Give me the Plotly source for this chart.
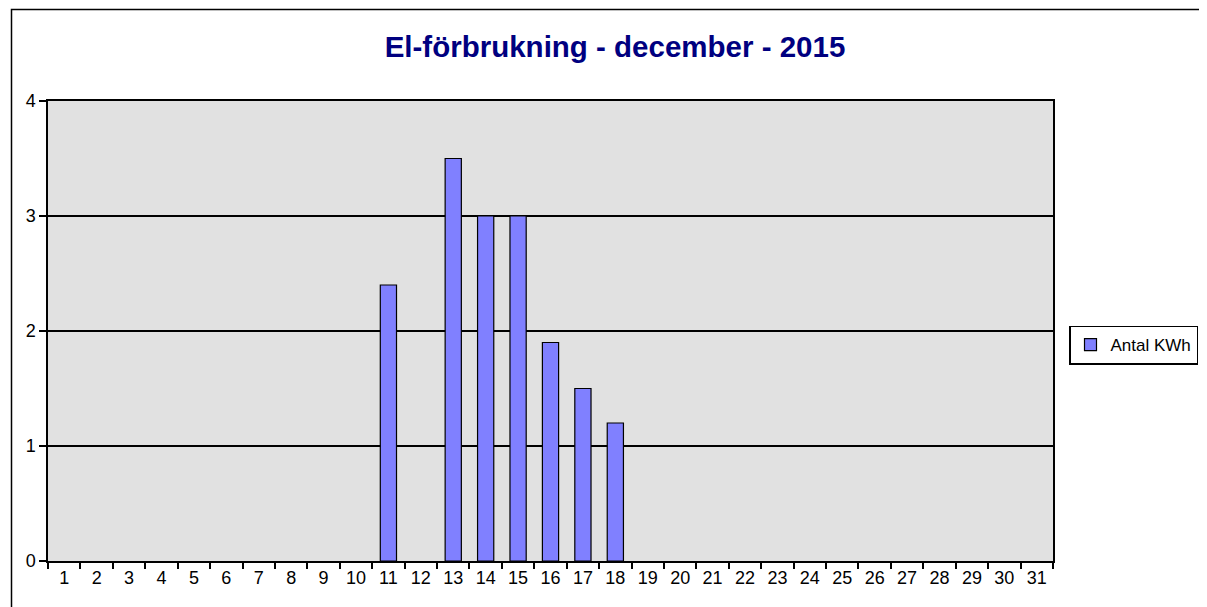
import plotly.graph_objects as go

days = [str(d) for d in range(1, 32)]
kwh = [None] * 10 + [2.4, None, 3.5, 3.0, 3.0, 1.9, 1.5, 1.2] + [None] * 13
title_text = "El-förbrukning - december - 2015"
series_name = "Antal KWh"
y_ticks = [0, 1, 2, 3, 4]

OFF = 8  # page body margin
W, H = 1207 - OFF, 607 - OFF
L, T = 48 - OFF, 101 - OFF
R = W - (1053 - OFF)
B = H - (561 - OFF)
pw, ph = W - L - R, H - T - B

def px_x(x):
    return (x - OFF - L) / pw

def px_y(y):
    return (H - B - (y - OFF)) / ph

fig = go.Figure()
fig.add_trace(go.Bar(
    x=days, y=kwh, name=series_name, width=0.5,
    marker=dict(color="#8080ff", line=dict(color="black", width=1.2)),
    showlegend=True,
))

fig.update_layout(
    width=W, height=H,
    margin=dict(l=L, r=R, t=T, b=B, autoexpand=False),
    paper_bgcolor="white",
    plot_bgcolor="#e1e1e1",
    font=dict(family="Liberation Sans, Arial, sans-serif", color="black", size=18),
    title=dict(text="<b>" + title_text + "</b>", x=(615 - OFF) / W, xanchor="center",
               y=1 - (47 - OFF) / H, yanchor="middle",
               font=dict(size=29.5, color="#000080", family="Liberation Sans, Arial, sans-serif")),
    showlegend=True,
    legend=dict(x=px_x(1069), xanchor="left", y=px_y(345), yanchor="middle",
                bordercolor="black", borderwidth=1.5, bgcolor="white",
                font=dict(size=17, color="black"), itemwidth=30),
    xaxis=dict(type="category", range=[-0.5, 30.5], tickson="boundaries",
               ticks="outside", ticklen=6, tickcolor="black", tickwidth=1.5,
               showline=True, linecolor="black", linewidth=1.5, mirror=True,
               showgrid=False, tickfont=dict(size=18, color="black")),
    yaxis=dict(range=[0, 4], tickvals=y_ticks, ticks="outside", ticklen=7,
               tickcolor="black", tickwidth=1.5,
               showline=True, linecolor="black", linewidth=1.5, mirror=True,
               showgrid=True, gridcolor="black", gridwidth=1.5, zeroline=False,
               tickfont=dict(size=18, color="black")),
    shapes=[dict(type="rect", xref="paper", yref="paper",
                 x0=px_x(11.5), x1=1.3, y0=-0.3, y1=px_y(9.5),
                 line=dict(color="black", width=1.5), layer="below")],
)

fig.write_html("out.html")
